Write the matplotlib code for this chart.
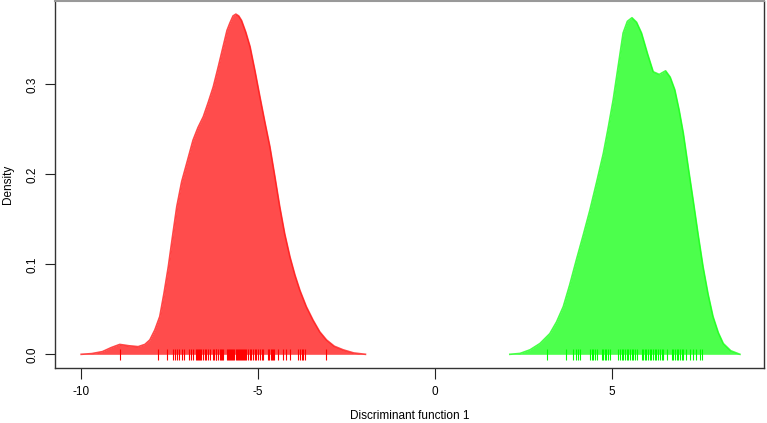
import matplotlib
matplotlib.use("Agg")
import matplotlib.pyplot as plt

# Density curve of group 1 (red)
red_x = [-10.0, -9.7, -9.4, -9.15, -8.91, -8.65, -8.39, -8.2, -8.06, -7.92, -7.78,
         -7.66, -7.54, -7.42, -7.30, -7.16, -7.02, -6.84, -6.70, -6.55, -6.41, -6.27,
         -6.13, -5.99, -5.88, -5.80, -5.71, -5.63, -5.55, -5.47, -5.35, -5.23, -5.09,
         -4.95, -4.81, -4.67, -4.53, -4.39, -4.25, -4.10, -3.96, -3.82, -3.64, -3.45,
         -3.26, -3.07, -2.85, -2.60, -2.30, -1.97]
red_d = [0.0, 0.0008, 0.003, 0.0075, 0.011, 0.0095, 0.0085, 0.011, 0.016, 0.027, 0.042,
         0.068, 0.097, 0.131, 0.164, 0.192, 0.212, 0.238, 0.252, 0.264, 0.280, 0.297,
         0.319, 0.342, 0.360, 0.368, 0.376, 0.378, 0.376, 0.371, 0.358, 0.342, 0.315,
         0.286, 0.258, 0.231, 0.198, 0.164, 0.134, 0.108, 0.088, 0.071, 0.053, 0.038,
         0.025, 0.016, 0.009, 0.005, 0.0015, 0.0]

# Density curve of group 2 (green)
green_x = [2.11, 2.40, 2.68, 2.96, 3.24, 3.43, 3.62, 3.80, 3.99, 4.18, 4.37, 4.56,
           4.75, 4.89, 5.03, 5.17, 5.31, 5.43, 5.56, 5.69, 5.83, 6.00, 6.16, 6.33,
           6.51, 6.64, 6.77, 6.89, 7.01, 7.15, 7.29, 7.43, 7.57, 7.71, 7.85, 8.00,
           8.14, 8.35, 8.61]
green_d = [0.0, 0.001, 0.005, 0.012, 0.023, 0.036, 0.053, 0.077, 0.105, 0.132, 0.160,
           0.191, 0.223, 0.252, 0.283, 0.320, 0.357, 0.370, 0.374, 0.369, 0.357, 0.334,
           0.314, 0.311, 0.315, 0.308, 0.294, 0.272, 0.246, 0.208, 0.171, 0.133, 0.097,
           0.067, 0.042, 0.024, 0.012, 0.004, 0.0]

# Rug (individual discriminant scores)
red_rug = [-8.91, -7.82, -7.57, -7.40, -7.35, -7.29, -7.24, -7.16, -7.10, -6.96, -6.90,
           -6.84, -6.77, -6.74, -6.71, -6.68, -6.65, -6.62, -6.55, -6.51, -6.46, -6.41,
           -6.36, -6.29, -6.25, -6.20, -6.18, -6.13, -6.08, -6.05, -6.02, -5.99, -5.89,
           -5.86, -5.83, -5.80, -5.77, -5.73, -5.71, -5.68, -5.64, -5.61, -5.58, -5.55,
           -5.52, -5.49, -5.46, -5.42, -5.40, -5.37, -5.33, -5.28, -5.23, -5.19, -5.14,
           -5.09, -5.05, -5.00, -4.95, -4.90, -4.86, -4.72, -4.69, -4.65, -4.62, -4.59,
           -4.55, -4.44, -4.29, -4.20, -4.10, -3.87, -3.82, -3.77, -3.73, -3.68, -3.09]
green_rug = [3.16, 3.71, 3.90, 3.97, 4.04, 4.09, 4.37, 4.42, 4.46, 4.51, 4.56, 4.70,
             4.75, 4.79, 4.84, 4.89, 4.95, 5.17, 5.22, 5.27, 5.31, 5.36, 5.41, 5.45,
             5.50, 5.55, 5.59, 5.64, 5.69, 5.83, 5.88, 5.92, 5.97, 6.02, 6.07, 6.11,
             6.16, 6.21, 6.25, 6.30, 6.35, 6.40, 6.44, 6.54, 6.68, 6.72, 6.77, 6.82,
             6.86, 6.91, 6.96, 7.01, 7.10, 7.19, 7.29, 7.36, 7.48, 7.54]

x_ticks = [-10, -5, 0, 5]
y_ticks = [0.0, 0.1, 0.2, 0.3]
y_tick_labels = ["0.0", "0.1", "0.2", "0.3"]

plt.rcParams['font.family'] = ['Liberation Sans', 'DejaVu Sans']

W, H = 767, 423
fig = plt.figure(figsize=(W / 100, H / 100), dpi=100)
ax = fig.add_axes([55 / W, (H - 368) / H, (764 - 55) / W, (368 - 1) / H])

ax.fill_between(red_x, red_d, 0, color=(1, 0, 0), alpha=0.7, linewidth=0)
ax.plot(red_x, red_d, color=(1, 0.1, 0.1), lw=1.2, alpha=0.8, solid_joinstyle="round")
ax.fill_between(green_x, green_d, 0, color=(0, 1, 0), alpha=0.7, linewidth=0)
ax.plot(green_x, green_d, color=(0.1, 1, 0.1), lw=1.2, alpha=0.8, solid_joinstyle="round")

ax.vlines(red_rug, -0.006, 0.006, color="red", lw=0.8)
ax.vlines(green_rug, -0.006, 0.006, color=(0, 1, 0), lw=0.8)

ax.set_xlim(-10.74, 9.29)
ax.set_ylim(-0.0152, 0.3926)
ax.set_xticks(x_ticks)
ax.set_xticklabels([str(t) for t in x_ticks])
ax.set_yticks(y_ticks)
ax.set_yticklabels(y_tick_labels, rotation=90, va="center")

ax.tick_params(axis="x", length=8, width=0.8, labelsize=8.5, pad=5, colors="#222222")
ax.tick_params(axis="y", length=7, width=0.8, labelsize=8.5, pad=5, colors="#222222")
for t in ax.get_xticklabels() + ax.get_yticklabels():
    t.set_color("black")

for side in ["left", "bottom", "right"]:
    ax.spines[side].set_color("#333333")
    ax.spines[side].set_linewidth(1.0)
ax.spines["top"].set_color("#999999")
ax.spines["top"].set_linewidth(1.5)

fig.text(410 / W, (H - 419) / H, "Discriminant function 1", fontsize=8.5,
         ha="center", va="baseline")
ax.set_ylabel("Density", fontsize=8.5, labelpad=9)

fig.savefig("out.png", dpi=100)
